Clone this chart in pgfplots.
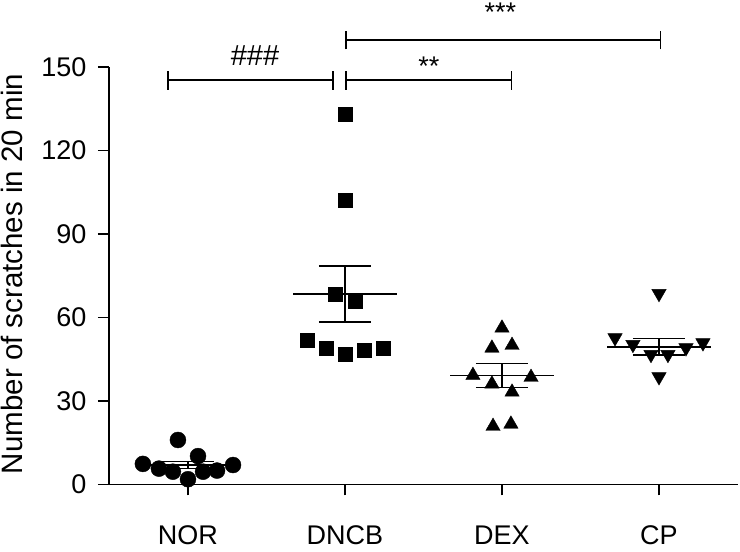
\documentclass[border=0pt]{standalone}
\usepackage{fontspec}
\setmainfont{Liberation Sans}
\usepackage{pgfplots}
\pgfplotsset{compat=1.18}
\begin{document}
\begin{tikzpicture}
\useasboundingbox (-109pt,-67.5pt) rectangle (631pt,484.5pt);
\begin{axis}[
  scale only axis,
  width=628.5pt, height=417.5pt,
  xmin=-0.503, xmax=3.5, ymin=0, ymax=150,
  axis x line*=bottom, axis y line*=left,
  xtick={0,1,2,3}, xticklabels={NOR,DNCB,DEX,CP},
  ytick={0,30,60,90,120,150},
  tick align=outside,
  major tick length=11pt,
  axis line style={line width=1.6pt, black},
  every tick/.style={black, line width=1.6pt},
  tick label style={font=\fontsize{27}{32}\selectfont},
  x tick label style={anchor=base, yshift=-49pt, inner sep=0pt},
  y tick label style={xshift=-8pt},
  /pgf/number format/assume math mode=true,
  clip=false,
  ylabel={Number of scratches in 20 min},
  ylabel style={font=\fontsize{29.5}{35}\selectfont, at={(axis description cs:-0.1384,0.5042)}, anchor=base},
]
% NOR
\addplot[only marks, mark=*, mark size=8pt, black] coordinates {
(-0.287,7.4) (-0.185,5.7) (-0.096,4.6) (-0.064,16.0) (0,1.9) (0.064,10.2) (0.096,4.6) (0.185,5.0) (0.287,7.0)};
% DNCB
\addplot[only marks, mark=square*, mark size=7pt, black] coordinates {
(1,133.1) (1,102.2) (0.936,68.4) (1.064,66.0) (0.758,51.9) (0.879,48.9) (1,46.9) (1.121,48.1) (1.242,48.9)};
% DEX
\addplot[only marks, mark=triangle*, mark size=8.3pt, black] coordinates {
(2,56.2) (1.936,49.0) (2.064,50.0) (1.815,39.2) (1.936,36.1) (2.185,38.5) (2.064,33.2) (1.943,20.9) (2.057,21.7)};
% CP
\addplot[only marks, mark=triangle*, mark size=8.3pt, mark options={rotate=180}, black] coordinates {
(3,68.6) (2.72,52.7) (2.834,50.3) (2.949,46.7) (3.057,46.7) (3.172,49.1) (3.28,50.9) (3,38.7)};
% mean and SEM
\addplot[black, line width=1.6pt] table {
x y
-0.33 7.0
0.33 7.0

-0.166 8.3
0.166 8.3

-0.166 5.7
0.166 5.7

0 5.7
0 8.3

0.67 68.4
1.33 68.4

0.834 78.5
1.166 78.5

0.834 58.3
1.166 58.3

1 58.3
1 78.5

1.67 39.1
2.33 39.1

1.834 43.5
2.166 43.5

1.834 34.9
2.166 34.9

2 34.9
2 43.5

2.67 49.5
3.33 49.5

2.834 52.5
3.166 52.5

2.834 46.5
3.166 46.5

3 46.5
3 52.5
};
% significance brackets
\draw[line width=1.6pt] (axis cs:-0.127,145.3) -- (axis cs:0.924,145.3);
\draw[line width=1.6pt] (axis cs:-0.127,141.9) -- (axis cs:-0.127,148.7);
\draw[line width=1.6pt] (axis cs:0.924,141.9) -- (axis cs:0.924,148.7);
\draw[line width=1.6pt] (axis cs:1.006,145.3) -- (axis cs:2.06,145.3);
\draw[line width=1.6pt] (axis cs:1.006,141.9) -- (axis cs:1.006,148.7);
\draw[line width=1.6pt] (axis cs:2.06,141.9) -- (axis cs:2.06,148.7);
\draw[line width=1.6pt] (axis cs:1.006,159.7) -- (axis cs:3.01,159.7);
\draw[line width=1.6pt] (axis cs:1.006,156.3) -- (axis cs:1.006,163.1);
\draw[line width=1.6pt] (axis cs:3.01,156.3) -- (axis cs:3.01,163.1);
\node[anchor=base, font=\fontsize{29}{34}\selectfont, inner sep=0pt] at (axis cs:0.427,150.7) {\#\#\#};
\node[anchor=base, font=\fontsize{27}{32}\selectfont, inner sep=0pt] at (axis cs:1.535,146.9) {**};
\node[anchor=base, font=\fontsize{27}{32}\selectfont, inner sep=0pt] at (axis cs:1.99,166.5) {***};
\end{axis}
\end{tikzpicture}
\end{document}
